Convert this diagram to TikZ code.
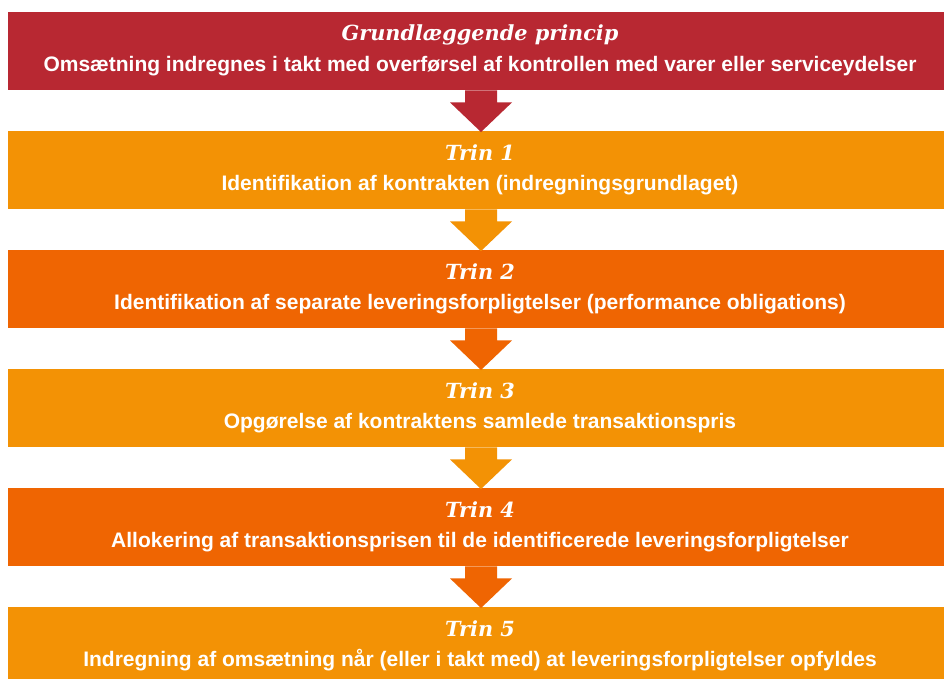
\documentclass[tikz,border=0pt]{standalone}
\usepackage{fontspec}
\setmainfont{Liberation Sans}
\newfontfamily\headfont{DejaVu Serif}
\usetikzlibrary{calc}
\definecolor{brandred}{HTML}{B82832}
\definecolor{brandorange}{HTML}{F39205}
\definecolor{branddark}{HTML}{EF6502}

\begin{document}
\begin{tikzpicture}[x=1pt,y=-1pt,
  band/.style={rectangle, inner sep=0pt, minimum width=936pt, minimum height=78pt, anchor=north west},
  headtxt/.style={anchor=base, inner sep=0pt, text=white, font=\headfont\bfseries\itshape\fontsize{20.8}{24}\selectfont},
  bodytxt/.style={anchor=base, inner sep=0pt, text=white, font=\bfseries\fontsize{21}{25}\selectfont}
]
\clip (0,0) rectangle (944,678);
\fill[white] (0,0) rectangle (944,678);

% the six stacked bands
\node[band, fill=brandred]    (b0) at (8,12)  {};
\node[band, fill=brandorange] (b1) at (8,131) {};
\node[band, fill=branddark]   (b2) at (8,250) {};
\node[band, fill=brandorange] (b3) at (8,369) {};
\node[band, fill=branddark]   (b4) at (8,488) {};
\node[band, fill=brandorange] (b5) at (8,607) {};

% titles and descriptions
\node[headtxt] (h0) at (480,40)  {Grundlæggende princip};
\node[bodytxt] (t0) at (480,71)  {Omsætning indregnes i takt med overførsel af kontrollen med varer eller serviceydelser};
\node[headtxt] (h1) at (480,160) {Trin 1};
\node[bodytxt] (t1) at (480,190) {Identifikation af kontrakten (indregningsgrundlaget)};
\node[headtxt] (h2) at (480,279) {Trin 2};
\node[bodytxt] (t2) at (480,309) {Identifikation af separate leveringsforpligtelser (performance obligations)};
\node[headtxt] (h3) at (480,398) {Trin 3};
\node[bodytxt] (t3) at (480,428) {Opgørelse af kontraktens samlede transaktionspris};
\node[headtxt] (h4) at (480,517) {Trin 4};
\node[bodytxt] (t4) at (480,547) {Allokering af transaktionsprisen til de identificerede leveringsforpligtelser};
\node[headtxt] (h5) at (480,636) {Trin 5};
\node[bodytxt] (t5) at (480,666) {Indregning af omsætning når (eller i takt med) at leveringsforpligtelser opfyldes};

% block arrows between consecutive bands
\foreach \a/\b/\c in {b0/b1/brandred, b1/b2/brandorange, b2/b3/branddark, b3/b4/brandorange, b4/b5/branddark}{
  \fill[\c] ($(\a.south west)+(457,0)$) -- ++(32,0) -- ++(0,12) -- ++(15,0)
    -- ($(\b.north west)+(473,1)$) -- ($(\a.south west)+(442,12)$) -- ++(15,0) -- cycle;
}
\end{tikzpicture}
\end{document}
